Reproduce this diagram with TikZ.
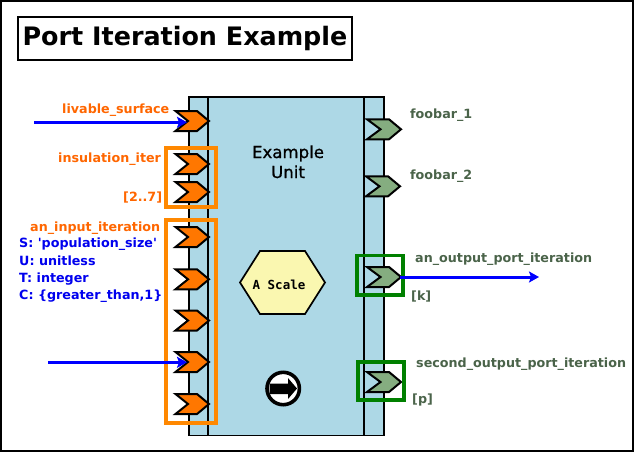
\documentclass[tikz,border=0pt]{standalone}
\usepackage{fontspec}
\setmainfont{DejaVu Sans}
\setmonofont{DejaVu Sans Mono}
\newfontfamily\labfont{DejaVu Sans Bold}
\newfontfamily\unitfont[FakeBold=0.8]{DejaVu Sans}
\usetikzlibrary{arrows.meta}
\definecolor{lblorange}{HTML}{FF6600}
\definecolor{lblblue}{HTML}{0000EE}
\definecolor{lblgreen}{HTML}{4A6349}
\definecolor{portorange}{HTML}{FF7700}
\definecolor{portgreen}{HTML}{85AD80}
\definecolor{boxorange}{HTML}{FF8800}
\definecolor{boxgreen}{HTML}{008000}
\definecolor{bodyblue}{HTML}{ADD8E6}
\definecolor{hexfill}{HTML}{FAF7B0}
\tikzset{
  x=1pt,y=-1pt,
  blockline/.style={draw=black,line width=1.7pt},
  inport/.pic={\draw[black,line width=2pt,fill=portorange,line join=miter]
     (-16.5,-10)--(5,-10)--(17,0)--(5,10)--(-16.5,10)--(-4,0)--cycle;},
  outport/.pic={\draw[black,line width=2pt,fill=portgreen,line join=miter]
     (-17,-10)--(5,-10)--(17,0)--(5,10)--(-17,10)--(-3.5,0)--cycle;},
  orangebox/.style={draw=boxorange,line width=3.3pt},
  greenbox/.style={draw=boxgreen,line width=3.3pt},
  flow/.style={draw=blue,line width=3pt,-{Stealth[length=10pt,width=11pt,inset=2pt]}},
  lab/.style={inner sep=0pt,anchor=base west,font=\fontsize{12.7}{15}\selectfont\labfont},
  orangelab/.style={lab,text=lblorange},
  bluelab/.style={lab,text=lblblue},
  greenlab/.style={lab,text=lblgreen},
  unitlab/.style={inner sep=0pt,anchor=base,font=\fontsize{16.6}{18}\selectfont\unitfont},
}
\begin{document}
\begin{tikzpicture}
\useasboundingbox (0,0) rectangle (636,453);
\draw[black,line width=2pt] (1,1) rectangle (633,451);
% title
\node[draw=black,line width=2pt,minimum width=334pt,minimum height=43pt,inner sep=0pt,anchor=north west,
      font=\fontsize{25.4}{30}\selectfont\bfseries] (title) at (17,16) {Port Iteration Example};
% block
\draw[blockline,fill=bodyblue] (189,97) rectangle (384,435.5);
\draw[blockline] (208,97) -- (208,435.5);
\draw[blockline] (364,97) -- (364,435.5);
\node[unitlab] (unitone) at (288,158) {Example};
\node[unitlab] (unittwo) at (288,178) {Unit};
% hexagon
\draw[black,line width=1.7pt,fill=hexfill] (240,282.5)--(260,314)--(305,314)--(325,282.5)--(305,251)--(260,251)--cycle;
\node[inner sep=0pt,font=\fontsize{12.5}{14}\selectfont\ttfamily\bfseries] (scale) at (279,285) {A Scale};
% icon
\draw[black,line width=3.6pt,fill=white] (283.2,388.5) circle (16.2);
\fill[black] (269.5,383.5)--(288,383.5)--(288,378)--(297,388.5)--(288,399)--(288,394)--(269.5,394)--cycle;
% ports
\foreach \n/\py in {a/121,b/164,c/192,d/237,e/279.3,f/320.5,g/362,h/404}
  {\pic at (192,\py) {inport}; \coordinate (port\n) at (187,\py);}
\pic at (384,129.3) {outport};
\pic at (383,186.3) {outport};
\pic at (384,277) {outport}; \coordinate (portk) at (400,277);
\pic at (384,382) {outport};
% boxes
\draw[orangebox] (166,148) rectangle (216,207);
\draw[orangebox] (166,220) rectangle (216,423);
\draw[greenbox] (357,255.5) rectangle (403,295);
\draw[greenbox] (358,362) rectangle (404,400);
% flows
\coordinate (srca) at (34,122.3);
\coordinate (srcg) at (48,362.3);
\coordinate (dstk) at (539,277);
\draw[flow] (srca) -- (srca -| porta);
\draw[flow] (srcg) -- (srcg -| portg);
\draw[flow] (portk) -- (dstk);
% labels
\node[orangelab] (l1) at (62,113) {livable\_surface};
\node[orangelab] (l2) at (58,162) {insulation\_iter};
\node[orangelab] (l3) at (123,201.5) {[2..7]};
\node[orangelab] (l4) at (30,231.5) {an\_input\_iteration};
\node[bluelab] (s) at (19,247.5) {S: 'population\_size'};
\node[bluelab] (u) at (19,265) {U: unitless};
\node[bluelab] (t) at (19,282) {T: integer};
\node[bluelab] (c) at (19,299) {C: \{greater\_than,1\}};
\node[greenlab] (f1) at (410,118) {foobar\_1};
\node[greenlab] (f2) at (410,179) {foobar\_2};
\node[greenlab] (o1) at (415,262) {an\_output\_port\_iteration};
\node[greenlab] (k) at (411,300) {[k]};
\node[greenlab] (o2) at (416,367) {second\_output\_port\_iteration};
\node[greenlab] (p) at (412,403) {[p]};
\end{tikzpicture}
\end{document}
